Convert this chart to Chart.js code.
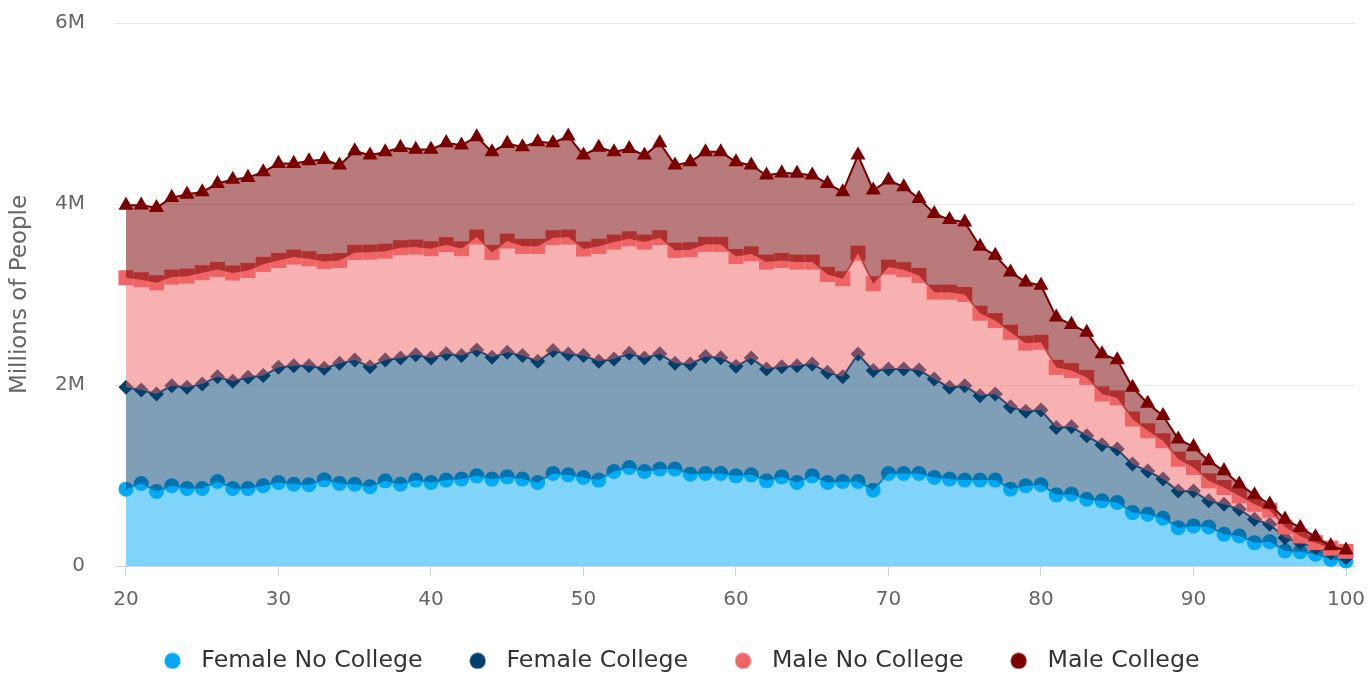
<!DOCTYPE html>
<html>
<head>
<meta charset="utf-8">
<script src="https://cdn.jsdelivr.net/npm/chart.js@4/dist/chart.umd.min.js"></script>
<style>
html,body{margin:0;padding:0;background:#ffffff;}
#wrap{width:1370px;height:675px;position:relative;}
</style>
</head>
<body>
<div id="wrap"><canvas id="c" width="1370" height="675"></canvas></div>
<script>
// ---------- data ----------
const ages = [20,21,22,23,24,25,26,27,28,29,30,31,32,33,34,35,36,37,38,39,40,41,42,43,44,45,46,47,48,49,50,51,52,53,54,55,56,57,58,59,60,61,62,63,64,65,66,67,68,69,70,71,72,73,74,75,76,77,78,79,80,81,82,83,84,85,86,87,88,89,90,91,92,93,94,95,96,97,98,99,100];

const femaleNoCollege = [849000,911000,823000,886000,856000,856000,933000,856000,856000,886000,
  922000,904000,897000,952000,911000,904000,875000,941000,904000,949000,
  922000,949000,960000,996000,960000,985000,960000,922000,1022000,1007000,
  978000,949000,1044000,1088000,1044000,1071000,1071000,1015000,1022000,1022000,
  996000,1007000,941000,985000,922000,996000,922000,933000,933000,838000,
  1022000,1022000,1022000,978000,960000,949000,949000,949000,849000,886000,
  897000,786000,794000,738000,720000,701000,590000,572000,528000,424000,
  443000,432000,351000,332000,258000,269000,166000,158000,130000,74000,
  55000];

const femaleCollege = [1125000,1034000,1078000,1107000,1118000,1156000,1159000,1185000,1229000,1218000,
  1273000,1310000,1317000,1234000,1328000,1373000,1328000,1336000,1395000,1384000,
  1377000,1395000,1365000,1392000,1346000,1376000,1365000,1340000,1358000,1336000,
  1347000,1313000,1244000,1262000,1255000,1273000,1169000,1218000,1292000,1278000,
  1212000,1292000,1237000,1218000,1292000,1237000,1218000,1159000,1410000,1321000,
  1156000,1156000,1145000,1089000,1014000,1044000,933000,952000,911000,823000,
  827000,745000,745000,701000,620000,591000,536000,479000,432000,406000,
  387000,288000,332000,296000,259000,193000,147000,100000,73000,73000,
  37000];

const maleNoCollege = [1211000,1218000,1229000,1199000,1229000,1229000,1185000,1196000,1181000,1229000,
  1181000,1199000,1181000,1179000,1137000,1188000,1265000,1202000,1218000,1191000,
  1207000,1207000,1181000,1247000,1159000,1229000,1207000,1270000,1248000,1291000,
  1177000,1270000,1291000,1266000,1280000,1284000,1248000,1262000,1240000,1254000,
  1212000,1151000,1180000,1173000,1144000,1125000,1082000,1082000,1114000,960000,
  1125000,1096000,1044000,959000,1052000,1007000,911000,811000,823000,753000,
  748000,664000,620000,645000,561000,565000,498000,443000,424000,351000,
  258000,221000,184000,147000,166000,155000,118000,74000,55000,50000,
  70000];

const maleCollege = [800000,823000,830000,879000,904000,892000,949000,1034000,1026000,1022000,
  1071000,1034000,1080000,1126000,1052000,1121000,1071000,1096000,1107000,1078000,
  1096000,1125000,1144000,1107000,1110000,1078000,1099000,1155000,1047000,1115000,
  1037000,1093000,996000,996000,960000,1047000,941000,970000,1022000,1022000,
  1044000,978000,960000,966000,979000,960000,1004000,959000,1082000,1033000,
  960000,914000,849000,868000,801000,800000,738000,720000,664000,675000,
  628000,554000,509000,498000,443000,421000,350000,302000,277000,221000,
  229000,221000,185000,130000,103000,66000,85000,92000,63000,24000,
  12000];

const seriesNames = ['Female No College','Female College','Male No College','Male College'];
const xTickValues = [20,30,40,50,60,70,80,90,100];
const yTickValues = [0,2000000,4000000,6000000];
const yTickLabels = ['0','2M','4M','6M'];
const axisTitle = 'Millions of People';

// ---------- styles ----------
const lineColors = ['#03a9f4','#003f6e','#ef6464','#7a0000'];
const fillColors = ['rgba(3,169,244,0.5)','rgba(0,63,110,0.5)','rgba(239,100,100,0.5)','rgba(118,0,0,0.52)'];
const markerStyles = ['circle','rectRot','rect','triangle'];
const markerRadii = [7.5,7.5,10.6,8.7];

function dotCanvas(color){
  const cv = document.createElement('canvas');
  cv.width = 17; cv.height = 17;
  const g = cv.getContext('2d');
  g.fillStyle = color;
  g.beginPath(); g.arc(8.5,8.5,8,0,Math.PI*2); g.fill();
  return cv;
}
const legendDots = lineColors.map(dotCanvas);

const seriesValues = [femaleNoCollege, femaleCollege, maleNoCollege, maleCollege];
const datasets = seriesValues.map((vals, i) => ({
  label: seriesNames[i],
  data: ages.map((a, j) => ({x: a, y: vals[j]})),
  borderColor: lineColors[i],
  backgroundColor: fillColors[i],
  borderWidth: 2,
  pointStyle: markerStyles[i],
  pointRadius: markerRadii[i],
  pointHoverRadius: markerRadii[i],
  pointBackgroundColor: lineColors[i],
  pointBorderColor: lineColors[i],
  pointBorderWidth: 0,
  fill: i === 0 ? 'origin' : '-1',
  tension: 0,
  clip: false
}));

// draw stacked series bottom-up so each upper fill overlays the lower markers
const bottomUpDraw = {
  id: 'bottomUpDraw',
  beforeDatasetsDraw(chart) {
    const metas = chart.getSortedVisibleDatasetMetas();
    for (let i = 0; i < metas.length; i++) chart._drawDataset(metas[i]);
    return false;
  }
};

Chart.defaults.font.family = "'DejaVu Sans', sans-serif";

new Chart(document.getElementById('c'), {
  type: 'line',
  data: { datasets },
  plugins: [bottomUpDraw],
  options: {
    responsive: false,
    animation: false,
    devicePixelRatio: 1,
    layout: { padding: { top: 23, right: 15, left: 0, bottom: 0 } },
    scales: {
      x: {
        type: 'linear',
        min: 19.28,
        max: 100.59,
        afterBuildTicks: s => { s.ticks = xTickValues.map(v => ({ value: v })); },
        afterFit: s => { s.height = 45; s.paddingLeft = 0; s.paddingRight = 0; },
        grid: { display: true, drawOnChartArea: false, drawTicks: true, tickLength: 10, color: '#ccd6eb' },
        border: { display: true, color: '#ccd6eb', width: 1 },
        ticks: { color: '#666666', font: { size: 20 }, padding: 12, maxRotation: 0, autoSkip: false,
                 callback: v => String(v) }
      },
      y: {
        type: 'linear',
        stacked: true,
        min: 0,
        max: 6000000,
        afterBuildTicks: s => { s.ticks = yTickValues.map(v => ({ value: v })); },
        afterFit: s => { s.width = 115; s.paddingTop = 0; s.paddingBottom = 0; },
        grid: { color: '#e6e6e6', drawTicks: false },
        border: { display: false },
        ticks: { color: '#666666', font: { size: 20 }, padding: 30,
                 callback: v => yTickLabels[yTickValues.indexOf(v)] },
        title: { display: true, text: axisTitle, color: '#666666', font: { size: 23 }, padding: { top: 6, bottom: 0 } }
      }
    },
    plugins: {
      tooltip: { enabled: false },
      legend: {
        position: 'bottom',
        maxHeight: 64,
        labels: {
          usePointStyle: true,
          pointStyleWidth: 34,
          padding: 38,
          color: '#333333',
          font: { size: 23.7 },
          generateLabels: chart => Chart.defaults.plugins.legend.labels.generateLabels(chart)
            .map(it => Object.assign({}, it, { pointStyle: legendDots[it.datasetIndex] }))
        }
      }
    }
  }
});
</script>
</body>
</html>
